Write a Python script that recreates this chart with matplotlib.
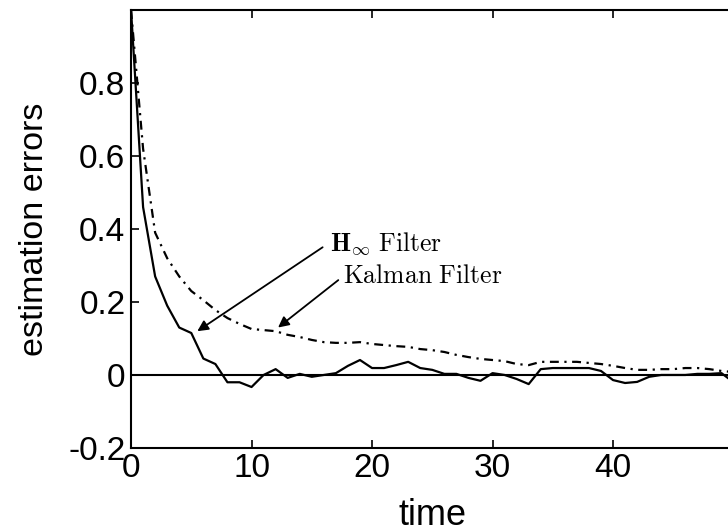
import matplotlib
matplotlib.use("Agg")
import matplotlib.pyplot as plt
import numpy as np

plt.rcParams["mathtext.fontset"] = "cm"
plt.rcParams["font.family"] = ["Liberation Sans", "DejaVu Sans"]

# time samples and estimation errors
time = np.arange(0, 51)
h_inf = [1.0, 0.46, 0.27, 0.19, 0.13, 0.115, 0.045, 0.03, -0.02, -0.02,
         -0.033, 0.0, 0.016, -0.008, 0.003, -0.005, 0.0, 0.005, 0.025, 0.041,
         0.019, 0.019, 0.027, 0.036, 0.019, 0.014, 0.003, 0.003, -0.008, -0.016,
         0.005, 0.0, -0.011, -0.025, 0.016, 0.019, 0.019, 0.019, 0.019, 0.011,
         -0.014, -0.022, -0.019, -0.005, 0.0, 0.0, 0.0, 0.003, 0.003, 0.005,
         -0.02]
kalman = [1.0, 0.62, 0.39, 0.32, 0.27, 0.23, 0.205, 0.178, 0.156, 0.14,
          0.126, 0.123, 0.12, 0.11, 0.104, 0.096, 0.09, 0.088, 0.088, 0.09,
          0.085, 0.082, 0.079, 0.077, 0.071, 0.068, 0.063, 0.055, 0.049, 0.044,
          0.041, 0.038, 0.03, 0.027, 0.036, 0.036, 0.036, 0.036, 0.033, 0.03,
          0.025, 0.019, 0.014, 0.014, 0.016, 0.016, 0.019, 0.019, 0.016, 0.011,
          0.008]

xticks = [0, 10, 20, 30, 40]
yticks = [-0.2, 0, 0.2, 0.4, 0.6, 0.8]
ytick_labels = ["-0.2", "0", "0.2", "0.4", "0.6", "0.8"]

fig = plt.figure(figsize=(7.28, 5.32), dpi=100)
ax = fig.add_axes([0.180, 0.158, 0.8276, 0.823])

ax.axhline(0, color="k", lw=1.5, zorder=1)
ax.plot(time, h_inf, color="k", lw=1.6, zorder=2)
ax.plot(time, kalman, color="k", lw=1.6, linestyle=(0, (4, 2.5, 1, 2.5)), zorder=2)

ax.set_xlim(0, 50)
ax.set_ylim(-0.2, 1.0)
ax.set_xticks(xticks)
ax.set_yticks(yticks)
ax.set_yticklabels(ytick_labels)
ax.tick_params(direction="in", length=6, width=1.2, labelsize=24,
               top=True, right=False, pad=4)
for s in ax.spines.values():
    s.set_linewidth(1.5)

ax.set_xlabel("time", fontsize=26, labelpad=10)
ax.set_ylabel("estimation errors", fontsize=24.5, labelpad=13)

arrow = dict(arrowstyle="-|>", color="k", lw=1.3, mutation_scale=16,
             shrinkA=0, shrinkB=0)
ax.annotate("", xy=(5.5, 0.12), xytext=(15.9, 0.35), arrowprops=arrow)
ax.annotate("", xy=(12.2, 0.13), xytext=(17.2, 0.26), arrowprops=arrow)
ax.text(16.5, 0.36, r"$\mathbf{H}_{\infty}\ \mathrm{Filter}$", fontsize=18.5,
        va="center", ha="left")
ax.text(17.6, 0.27, r"$\mathrm{Kalman\ Filter}$", fontsize=18.5,
        va="center", ha="left")

fig.savefig("out.png", dpi=100)
